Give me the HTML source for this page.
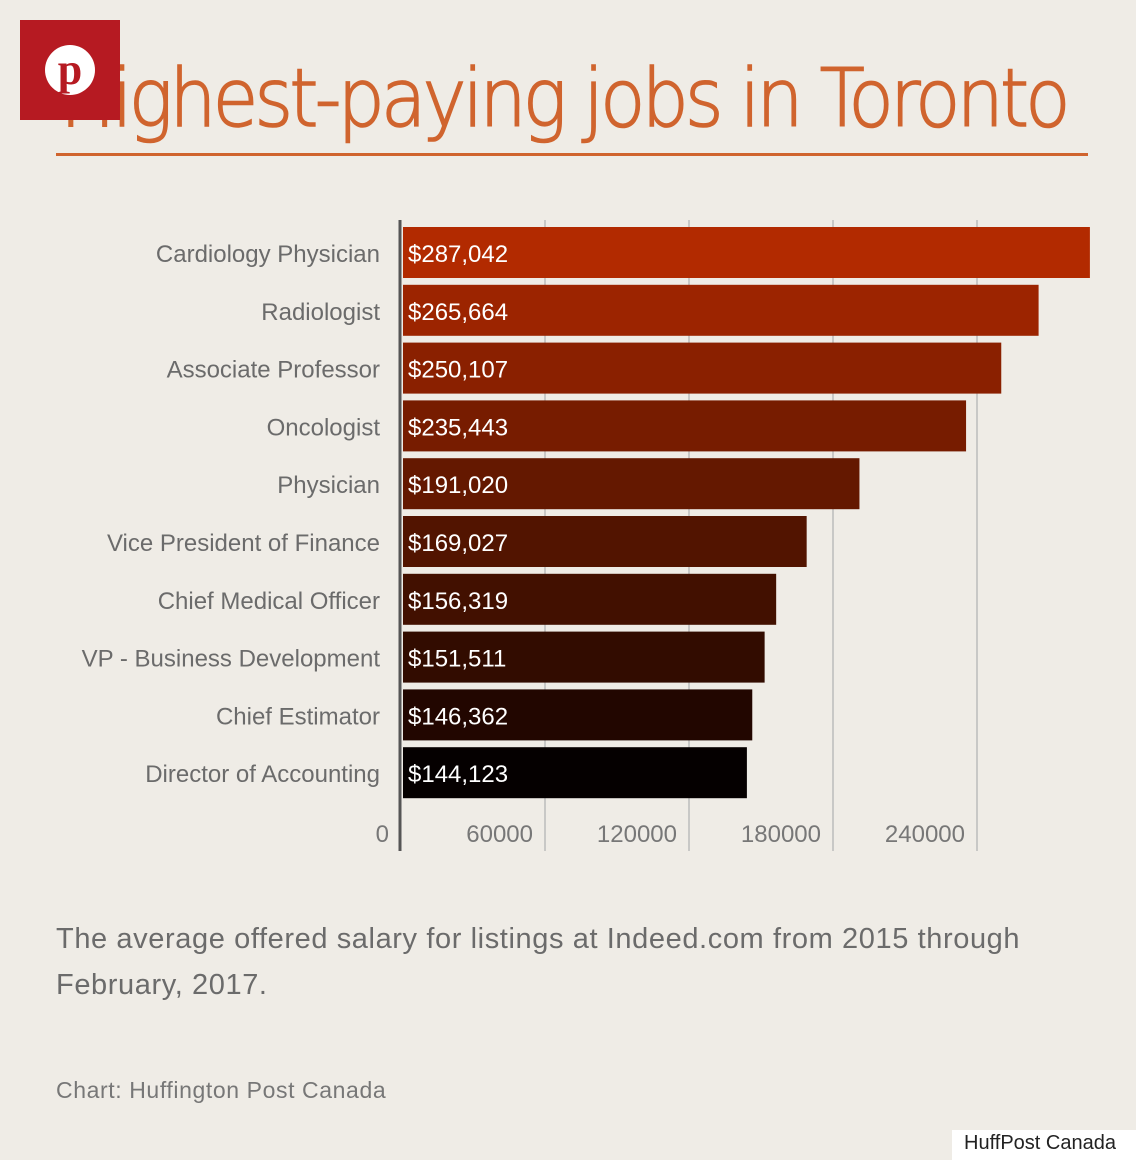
<!DOCTYPE html>
<html><head><meta charset="utf-8"><style>
body{margin:0;width:1136px;height:1160px;background:#efece6;position:relative;overflow:hidden;font-family:"Liberation Sans",sans-serif}
.abs{position:absolute}
</style></head><body>
<div class="abs" style="left:60px;top:52px;font-size:80px;color:#d0642e;letter-spacing:-4px;white-space:nowrap;transform:scaleX(0.925);transform-origin:left top;font-family:'DejaVu Sans',sans-serif;font-weight:300;-webkit-text-stroke:1.5px #d0642e">Highest-paying jobs in Toronto</div>
<div class="abs" style="left:56px;top:153px;width:1032px;height:3px;background:#d0642e"></div>
<div class="abs" style="left:20px;top:20px;width:100px;height:100px;background:#b61a22">
<div style="position:absolute;left:25px;top:25px;width:50px;height:50px;border-radius:50%;background:#fff;color:#b61a22;font:bold 44px 'Liberation Serif',serif;text-align:center;line-height:50px">p</div></div>
<svg id="chart" class="abs" style="left:0;top:0" width="1136" height="1160"></svg>
<div class="abs" style="left:56px;top:916px;font-size:29px;color:#6b6b6b;line-height:46px;width:1010px;letter-spacing:0.6px">The average offered salary for listings at Indeed.com from 2015 through February, 2017.</div>
<div class="abs" style="left:56px;top:1077px;font-size:23px;color:#777;letter-spacing:0.6px">Chart: Huffington Post Canada</div>
<div class="abs" style="left:952px;top:1130px;width:184px;height:30px;background:#fff;font-size:20px;color:#222;line-height:26px;padding-left:12px;box-sizing:border-box">HuffPost Canada</div>
<script>
const categories=["Cardiology Physician","Radiologist","Associate Professor","Oncologist","Physician","Vice President of Finance","Chief Medical Officer","VP - Business Development","Chief Estimator","Director of Accounting"];
const values=[287042,265664,250107,235443,191020,169027,156319,151511,146362,144123];
const labels=["$287,042","$265,664","$250,107","$235,443","$191,020","$169,027","$156,319","$151,511","$146,362","$144,123"];
const ticks=[0,60000,120000,180000,240000];
const colors=["#b22a00","#9c2400","#8a2000","#771c00","#641800","#521400","#421000","#320c00","#220600","#050000"];
const svg=document.getElementById('chart');const NS='http://www.w3.org/2000/svg';
const x=v=>401+v*0.0024;const y=i=>227+i*57.8;
function mk(t,a){const e=document.createElementNS(NS,t);for(const k in a)e.setAttribute(k,a[k]);svg.appendChild(e);return e;}
ticks.forEach((t,i)=>{if(i>0){const l=mk('line',{x1:x(t),x2:x(t),y1:220,y2:851,stroke:'#bbb','stroke-width':1.5});

}
const tx=mk('text',{x:x(t)-12,y:842,'text-anchor':'end','font-size':24,fill:'#777','font-family':'Liberation Sans, sans-serif'});tx.textContent=t;

});
values.forEach((v,i)=>{const r=mk('rect',{x:403,y:y(i),width:x(v)-403,height:51,fill:colors[i]});


const t=mk('text',{x:408,y:y(i)+35,'font-size':24,fill:'#fff','font-family':'Liberation Sans, sans-serif'});t.textContent=labels[i];


const c=mk('text',{x:380,y:y(i)+35,'text-anchor':'end','font-size':24,fill:'#6b6b6b','font-family':'Liberation Sans, sans-serif'});c.textContent=categories[i];

});
const ax=mk('line',{x1:400,x2:400,y1:220,y2:851,stroke:'#555','stroke-width':3});


</script>
</body></html>
